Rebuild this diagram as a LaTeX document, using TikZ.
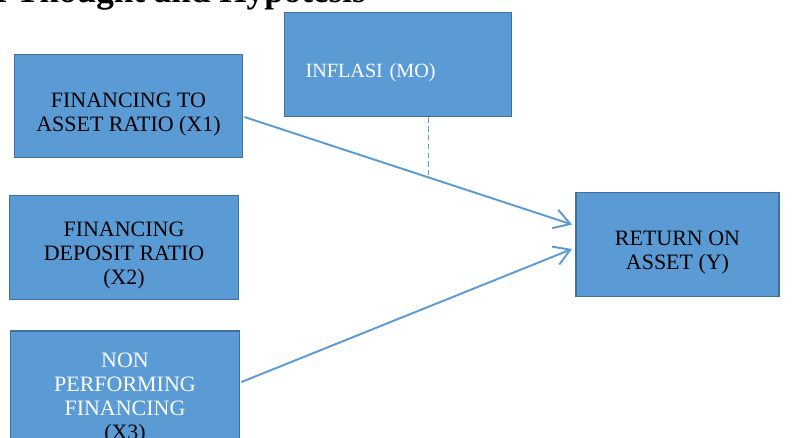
\documentclass[tikz,border=0pt]{standalone}
\usepackage{fontspec}
\setmainfont{Liberation Serif}
\usetikzlibrary{arrows.meta, calc}

\definecolor{boxfill}{HTML}{5B9BD5}
\definecolor{boxline}{HTML}{41719C}
\newcommand{\boxgap}{\rule{0pt}{15pt}}

\begin{document}
\begin{tikzpicture}[
    x=0.02cm, y=-0.02cm,
    box/.style={rectangle, draw=boxline, fill=boxfill, line width=1.1pt, align=center, inner sep=0pt, text depth=0pt, font=\fontsize{12.5}{13.6}\selectfont},
    arrow/.style={draw=boxfill, line width=1.1pt, -{Straight Barb[length=9pt, width=11pt]}},
    link/.style={draw=boxfill, line width=0.8pt, dash pattern=on 3pt off 2pt}
]
    \useasboundingbox (0,0) rectangle (793,437);
    \clip (0,0) rectangle (793,437);

    \node (title) [anchor=base east, font=\fontsize{20}{24}\selectfont\bfseries] at (372,2) {Framework of Thought and Hypotesis};

    \node (x1) [box, minimum width=4.56cm, minimum height=2.06cm] at (128.5,106) {\boxgap FINANCING TO\\ASSET RATIO (X1)};
    \node (mo) [box, text=white, minimum width=4.54cm, minimum height=2.08cm, text width=3.7cm, align=left, font=\fontsize{11.5}{13.6}\selectfont] at (398,64.5) {\boxgap INFLASI (MO)};
    \node (x2) [box, minimum width=4.58cm, minimum height=2.08cm] at (124,247.5) {\boxgap FINANCING\\DEPOSIT RATIO\\(X2)};
    \node (x3) [box, text=white, minimum width=4.58cm, minimum height=2.36cm] at (125,390) {\boxgap NON\\PERFORMING\\FINANCING\\\textcolor{black}{(X3)}};
    \node (y)  [box, minimum width=4.06cm, minimum height=2.08cm] at (677.5,244.5) {\boxgap RETURN ON\\ASSET (Y)};

    \draw [arrow] ($(x1.east)+(1,11)$) -- coordinate[pos=0.562] (mid) ($(y.west)+(-3,-20)$);
    \draw [arrow] ($(x3.east)+(1,-8)$) -- ($(y.west)+(-3,4.5)$);
    \draw [link] (mid |- mo.south) -- (mid);
\end{tikzpicture}
\end{document}
